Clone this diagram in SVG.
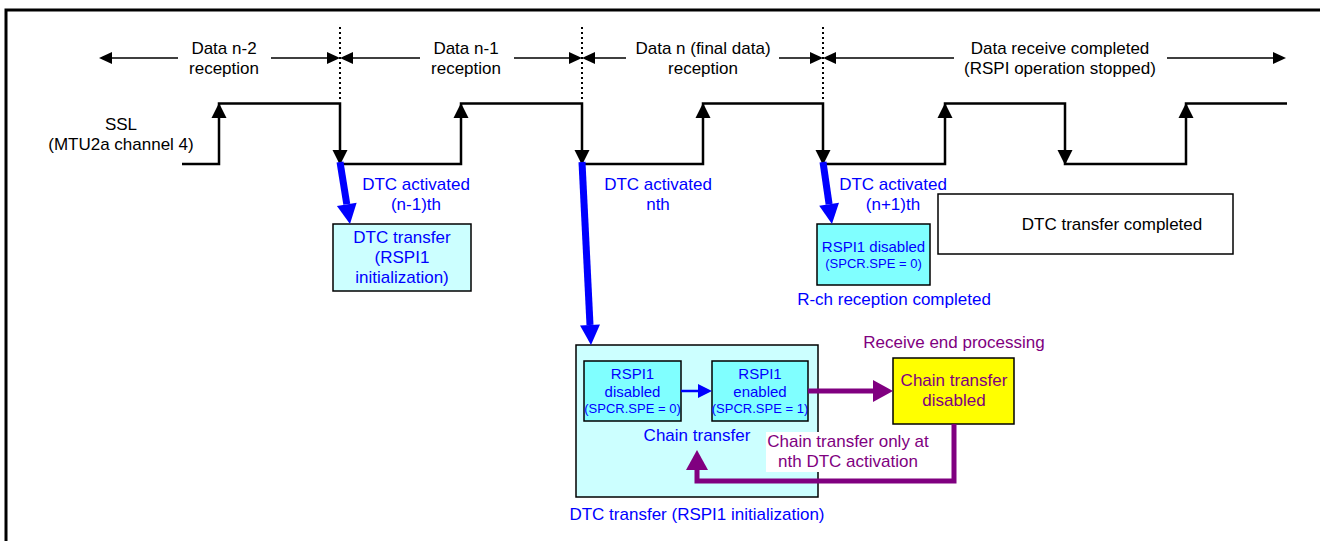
<svg xmlns="http://www.w3.org/2000/svg" xmlns:xlink="http://www.w3.org/1999/xlink" width="1320" height="541" viewBox="0 0 1320 541">
  <style>
    text { font-family: "Liberation Sans", Arial, sans-serif; font-size: 17px; text-anchor: middle; }
    .k { fill: #000000; }
    .b { fill: #0000FF; }
    .p { fill: #800080; }
    .md { font-size: 15px; }
    .sm { font-size: 13px; }
    .frame { stroke: #000; stroke-width: 3; fill: none; }
    .span { stroke: #000; stroke-width: 1.5; fill: none; }
    .dot { stroke: #000; stroke-width: 2; stroke-dasharray: 2 3; fill: none; }
    .wave { stroke: #000; stroke-width: 2.5; fill: none; stroke-linejoin: miter; }
    .head { fill: #000; }
    .box { stroke: #000; stroke-width: 1.5; }
    .pale { fill: #CCFFFF; }
    .aqua { fill: #80FFFF; }
    .white { fill: #FFFFFF; }
    .yellow { fill: #FFFF00; }
    .blueThick { stroke: #0000FF; stroke-width: 7; fill: none; }
    .blueThin { stroke: #0000FF; stroke-width: 2.5; fill: none; }
    .purple { stroke: #800080; stroke-width: 5; fill: none; }
  </style>
  <defs>
    <path id="hR" d="M-13,-6 L0,0 L-13,6 z"/>
    <path id="hL" d="M13,-6 L0,0 L13,6 z"/>
    <path id="hUp" d="M-7.5,15 L0,0 L7.5,15 z"/>
    <path id="hDn" d="M-7.5,-15 L0,0 L7.5,-15 z"/>
    <marker id="mBlue" markerUnits="userSpaceOnUse" markerWidth="20" markerHeight="20" refX="0" refY="10" orient="auto" overflow="visible">
      <path d="M0,0 L20,10 L0,20 z" fill="#0000FF"/>
    </marker>
    <marker id="mBlueS" markerUnits="userSpaceOnUse" markerWidth="14" markerHeight="14" refX="0" refY="7" orient="auto" overflow="visible">
      <path d="M0,0 L14,7 L0,14 z" fill="#0000FF"/>
    </marker>
    <marker id="mPurple" markerUnits="userSpaceOnUse" markerWidth="20" markerHeight="22" refX="0" refY="11" orient="auto" overflow="visible">
      <path d="M0,0 L20,11 L0,22 z" fill="#800080"/>
    </marker>
  </defs>

  <!-- frame -->
  <path class="frame" d="M6,541 V10 H1320"/>

  <!-- reception periods along the top -->
  <g id="periods">
    <path class="dot" d="M340,27 V100 M582,27 V100 M823,27 V100"/>
    <path class="span" d="M112,58 H178 M271,58 H328 M352,58 H420 M514,58 H570 M594,58 H626 M779,58 H811 M835,58 H954 M1167,58 H1273"/>
    <use href="#hL" class="head" x="99" y="58"/>
    <use href="#hR" class="head" x="340" y="58"/>
    <use href="#hL" class="head" x="340" y="58"/>
    <use href="#hR" class="head" x="582" y="58"/>
    <use href="#hL" class="head" x="582" y="58"/>
    <use href="#hR" class="head" x="823" y="58"/>
    <use href="#hL" class="head" x="823" y="58"/>
    <use href="#hR" class="head" x="1286" y="58"/>
    <text class="k" x="224" y="53.5">Data n-2</text>
    <text class="k" x="224" y="73.5">reception</text>
    <text class="k" x="466" y="53.5">Data n-1</text>
    <text class="k" x="466" y="73.5">reception</text>
    <text class="k" x="703" y="53.5">Data n (final data)</text>
    <text class="k" x="703" y="73.5">reception</text>
    <text class="k" x="1060" y="53.5">Data receive completed</text>
    <text class="k" x="1060" y="73.5">(RSPI operation stopped)</text>
  </g>

  <!-- SSL waveform -->
  <g id="ssl">
    <text class="k" x="121" y="129.5">SSL</text>
    <text class="k" x="121" y="149.5">(MTU2a channel 4)</text>
    <path class="wave" d="M182,164 H219 V103.5 H340 V164 H461 V103.5 H582 V164 H703 V103.5 H823 V164 H945 V103.5 H1065 V164 H1186 V103.5 H1287"/>
    <use href="#hUp" class="head" x="219" y="103"/>
    <use href="#hDn" class="head" x="340" y="165"/>
    <use href="#hUp" class="head" x="461" y="103"/>
    <use href="#hDn" class="head" x="582" y="165"/>
    <use href="#hUp" class="head" x="703" y="103"/>
    <use href="#hDn" class="head" x="823" y="165"/>
    <use href="#hUp" class="head" x="945" y="103"/>
    <use href="#hDn" class="head" x="1065" y="165"/>
    <use href="#hUp" class="head" x="1186" y="103"/>
  </g>

  <!-- DTC activation labels -->
  <g id="act-n-1">
    <text class="b" x="416" y="189.5">DTC activated</text>
    <text class="b" x="416" y="209.5">(n-1)th</text>
  </g>
  <g id="act-n">
    <text class="b" x="658" y="189.5">DTC activated</text>
    <text class="b" x="658" y="209.5">nth</text>
  </g>
  <g id="act-n+1">
    <text class="b" x="893" y="189.5">DTC activated</text>
    <text class="b" x="893" y="209.5">(n+1)th</text>
  </g>

  <!-- (n-1)th transfer -->
  <g id="init-1">
    <rect class="box pale" x="333" y="224" width="138" height="67"/>
    <text class="b" x="402" y="243">DTC transfer</text>
    <text class="b" x="402" y="263">(RSPI1</text>
    <text class="b" x="402" y="283">initialization)</text>
  </g>

  <!-- (n+1)th transfer -->
  <g id="rspi-off">
    <rect class="box aqua" x="817" y="224" width="113" height="61"/>
    <text class="b md" x="873.5" y="252">RSPI1 disabled</text>
    <text class="b sm" x="873.5" y="267.5">(SPCR.SPE = 0)</text>
    <text class="b" x="894" y="304.5">R-ch reception completed</text>
  </g>

  <g id="dtc-done">
    <rect class="box white" x="938" y="194" width="295" height="60"/>
    <text class="k" x="1112" y="229.5">DTC transfer completed</text>
  </g>

  <!-- nth transfer with chain -->
  <g id="init-n">
    <rect class="box pale" x="576" y="345" width="242" height="152"/>
    <text class="b" x="697" y="441">Chain transfer</text>
    <text class="b" x="697" y="519.5">DTC transfer (RSPI1 initialization)</text>
  </g>
  <g id="spe0">
    <rect class="box aqua" x="584" y="361" width="97" height="60"/>
    <text class="b md" x="632.5" y="379">RSPI1</text>
    <text class="b md" x="632.5" y="397">disabled</text>
    <text class="b sm" x="632.5" y="413">(SPCR.SPE = 0)</text>
  </g>
  <g id="spe1">
    <rect class="box aqua" x="712" y="361" width="96" height="60"/>
    <text class="b md" x="760" y="379">RSPI1</text>
    <text class="b md" x="760" y="397">enabled</text>
    <text class="b sm" x="760" y="413">(SPCR.SPE = 1)</text>
  </g>
  <g id="chain-off">
    <text class="p" x="954" y="348">Receive end processing</text>
    <rect class="box yellow" x="893" y="358" width="121" height="66"/>
    <text class="p" x="954" y="386">Chain transfer</text>
    <text class="p" x="954" y="406">disabled</text>
  </g>

  <!-- connectors -->
  <g id="connectors">
    <path class="blueThick" d="M340,162 L346.8,204.3" marker-end="url(#mBlue)"/>
    <path class="blueThick" d="M582,162 L590,325" marker-end="url(#mBlue)"/>
    <path class="blueThick" d="M823,162 L829.1,204.2" marker-end="url(#mBlue)"/>
    <path class="blueThin" d="M681,391 H698" marker-end="url(#mBlueS)"/>
    <path class="purple" d="M808,391 H873" marker-end="url(#mPurple)"/>
    <path class="purple" d="M954,424 V481 H697 V470" marker-end="url(#mPurple)"/>
  </g>

  <g id="chain-note">
    <rect class="white" x="766" y="432" width="164" height="40"/>
    <text class="p" x="848" y="446.5">Chain transfer only at</text>
    <text class="p" x="848" y="467">nth DTC activation</text>
  </g>
</svg>
